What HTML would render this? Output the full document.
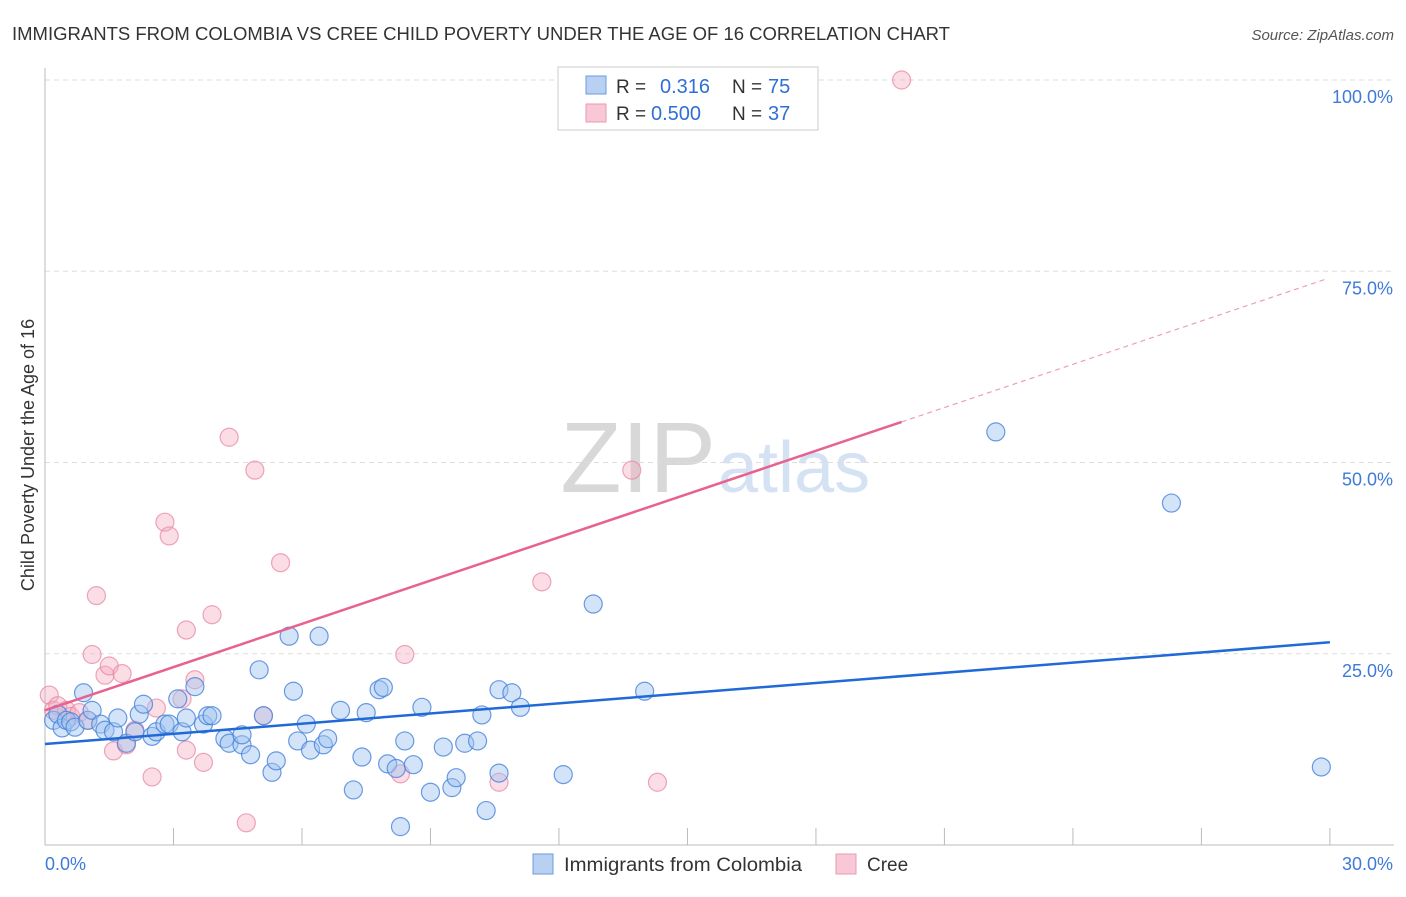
<!DOCTYPE html>
<html><head><meta charset="utf-8"><style>
body{margin:0;background:#fff;font-family:"Liberation Sans",sans-serif;}
svg text{font-family:"Liberation Sans",sans-serif;}
</style></head><body>
<svg id="c" width="1406" height="892">
<text x="12" y="40" font-size="18" fill="#333" textLength="938" lengthAdjust="spacingAndGlyphs">IMMIGRANTS FROM COLOMBIA VS CREE CHILD POVERTY UNDER THE AGE OF 16 CORRELATION CHART</text>
<text x="1394" y="40" font-size="15" fill="#555" font-style="italic" text-anchor="end">Source: ZipAtlas.com</text>
<text x="716" y="492" font-size="100" fill="#d8d8d8" text-anchor="end" font-family="Liberation Serif">ZIP</text>
<text x="718" y="492" font-size="72" fill="#d4e2f4">atlas</text>
<text transform="translate(34,455) rotate(-90)" font-size="18" fill="#333" text-anchor="middle">Child Poverty Under the Age of 16</text>
<g id="grid"></g><g id="pts"></g><g id="lines"></g>
<g>
<rect x="558" y="67" width="260" height="63" fill="#fff" stroke="#ccc"/>
<rect x="586" y="76" width="20" height="18" fill="#b8d1f3" stroke="#6d9be0"/>
<rect x="586" y="104" width="20" height="18" fill="#f8c8d6" stroke="#e99ab1"/>
<text x="616" y="93" font-size="19" fill="#333">R =</text>
<text x="660" y="93" font-size="20" fill="#2f6fd6">0.316</text>
<text x="732" y="93" font-size="19" fill="#333">N =</text>
<text x="768" y="93" font-size="20" fill="#2f6fd6">75</text>
<text x="616" y="120" font-size="19" fill="#333">R =</text>
<text x="651" y="120" font-size="20" fill="#2f6fd6">0.500</text>
<text x="732" y="120" font-size="19" fill="#333">N =</text>
<text x="768" y="120" font-size="20" fill="#2f6fd6">37</text>
</g>
<g>
<rect x="533" y="854" width="20" height="20" fill="#b8d1f3" stroke="#6d9be0"/>
<text x="564" y="871" font-size="19" fill="#333" textLength="238" lengthAdjust="spacingAndGlyphs">Immigrants from Colombia</text>
<rect x="836" y="854" width="20" height="20" fill="#f8c8d6" stroke="#e99ab1"/>
<text x="867" y="871" font-size="19" fill="#333">Cree</text>
</g>
</svg>
<script>
const yTicks=[25,50,75,100];
const xTickLabels=["0.0%","30.0%"];
const blueX=[0.2,0.3,0.4,0.5,0.6,0.7,0.9,1.0,1.1,1.3,1.4,1.6,1.7,1.9,2.1,2.2,2.3,2.5,2.6,2.8,2.9,3.1,3.2,3.3,3.5,3.7,3.8,3.9,4.2,4.3,4.6,4.6,4.8,5.0,5.1,5.3,5.4,5.7,5.8,5.9,6.1,6.2,6.4,6.5,6.6,6.9,7.2,7.4,7.5,7.8,7.9,8.0,8.2,8.3,8.4,8.6,8.8,9.0,9.3,9.5,9.6,9.8,10.1,10.2,10.3,10.6,10.6,10.9,11.1,12.1,12.8,14.0,22.2,26.3,29.8];
const blueY=[16.3,17.1,15.3,16.3,16.1,15.4,19.9,16.3,17.6,15.8,15.0,14.8,16.6,13.3,14.8,17.1,18.4,14.2,14.8,15.8,15.8,19.1,14.8,16.6,20.7,15.8,16.9,16.9,13.9,13.3,13.1,14.4,11.8,22.9,16.9,9.5,11.0,27.3,20.1,13.6,15.8,12.4,27.3,13.1,13.9,17.6,7.2,11.5,17.3,20.3,20.6,10.6,10.0,2.4,13.6,10.5,18.0,6.9,12.8,7.5,8.8,13.3,13.6,17.0,4.5,9.4,20.3,19.9,18.0,9.2,31.5,20.1,54.0,44.7,10.2];
const pinkX=[0.1,0.2,0.3,0.5,0.6,0.8,1.0,1.1,1.2,1.4,1.5,1.6,1.8,1.9,2.1,2.5,2.6,2.8,2.9,3.2,3.3,3.3,3.5,3.7,3.9,4.3,4.7,4.9,5.1,5.5,8.3,8.4,10.6,11.6,13.7,14.3,20.0];
const pinkY=[19.6,17.6,18.2,17.6,16.8,17.3,16.3,24.9,32.6,22.2,23.4,12.3,22.4,13.1,15.0,8.9,17.9,42.2,40.4,19.1,12.4,28.1,21.6,10.8,30.1,53.3,2.9,49.0,16.9,36.9,9.3,24.9,8.2,34.4,49.0,8.2,100];
const blueFit=[13.2,26.5];
const pinkFit=[17.6,1.885];
const X=v=>45+v*42.83, Y=v=>845-v*7.65;
const NS="http://www.w3.org/2000/svg";
function mk(t,a,p){const e=document.createElementNS(NS,t);for(const k in a)e.setAttribute(k,a[k]);p.appendChild(e);return e;}
const grid=document.getElementById('grid');
yTicks.forEach(t=>{
 const l=mk('line',{x1:45,x2:1394,y1:Y(t),y2:Y(t),stroke:'#ddd','stroke-dasharray':'5,4'},grid);
 
 
 const tx=mk('text',{x:1393,y:Y(t)+23,'font-size':18,fill:'#3d7ad9','text-anchor':'end'},grid);
 tx.textContent=t.toFixed(1)+'%';
 
 
});
const ax=mk('line',{x1:45,x2:45,y1:68,y2:845,stroke:'#bbb'},grid);


const bx=mk('line',{x1:45,x2:1394,y1:845,y2:845,stroke:'#bbb'},grid);


for(let i=0;i<=10;i++){const tk=mk('line',{x1:X(i*3),x2:X(i*3),y1:828,y2:845,stroke:'#bbb'},grid);
 
 }
[[0,xTickLabels[0],'start',45],[30,xTickLabels[1],'end',1393]].forEach(d=>{
 const t=mk('text',{x:d[3],y:870,'font-size':18,fill:'#3d7ad9','text-anchor':d[2]},grid);t.textContent=d[1];
 
 });
const pts=document.getElementById('pts');
pinkX.forEach((x,i)=>{const c=mk('circle',{cx:X(x),cy:Y(pinkY[i]),r:9,fill:'rgba(244,170,192,0.4)',stroke:'rgba(230,130,160,0.7)','stroke-width':1.2},pts);
 
 });
blueX.forEach((x,i)=>{const c=mk('circle',{cx:X(x),cy:Y(blueY[i]),r:9,fill:'rgba(160,195,240,0.45)',stroke:'rgba(70,130,220,0.8)','stroke-width':1.2},pts);
 
 });
const ln=document.getElementById('lines');
const b=mk('line',{x1:X(0),y1:Y(blueFit[0]),x2:X(30),y2:Y(blueFit[1]),stroke:'#1f6ad6','stroke-width':2.5},ln);


const p=mk('line',{x1:X(0),y1:Y(pinkFit[0]),x2:X(20),y2:Y(pinkFit[0]+pinkFit[1]*20),stroke:'#e8628f','stroke-width':2.5},ln);


const pd=mk('line',{x1:X(20),y1:Y(pinkFit[0]+pinkFit[1]*20),x2:X(29.9),y2:Y(pinkFit[0]+pinkFit[1]*29.9),stroke:'#eaa0b8','stroke-width':1.2,'stroke-dasharray':'5,4'},ln);


</script>
</body></html>
